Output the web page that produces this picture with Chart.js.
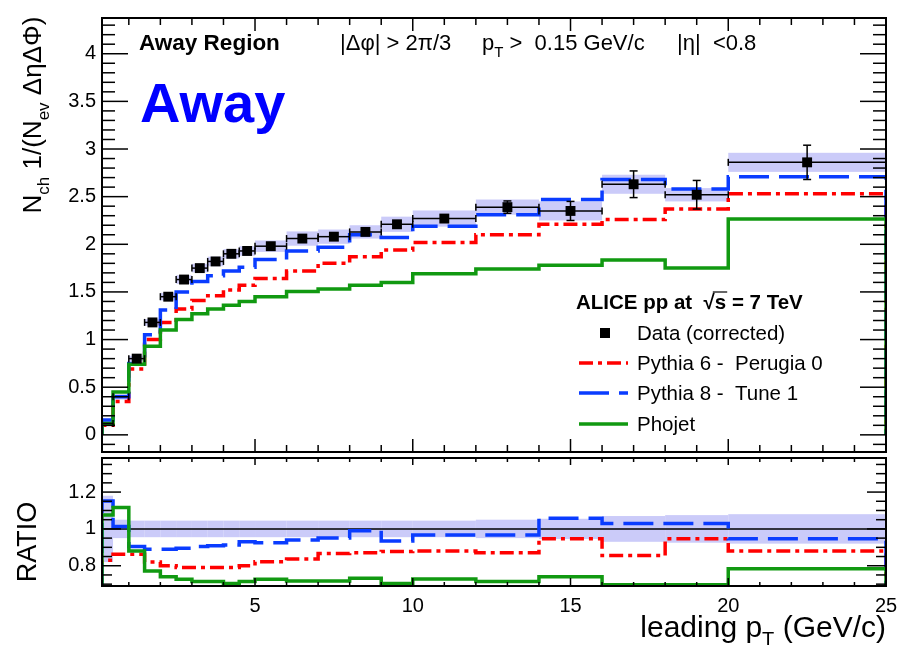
<!DOCTYPE html>
<html lang="en">
<head>
<meta charset="UTF-8" />
<script src="https://cdn.jsdelivr.net/npm/chart.js@4.4.1/dist/chart.umd.min.js"></script>
<title>Away region multiplicity</title>
<style>
  body { margin: 0; background: #fff; }
  #wrap { position: relative; width: 897px; height: 645px; overflow: hidden; }
  #topCanvas { position: absolute; left: 0; top: 0; }
  #ratioCanvas { position: absolute; left: 0; top: 440px; }
</style>
</head>
<body>
<div id="wrap">
  <canvas id="topCanvas" width="897" height="470"></canvas>
  <canvas id="ratioCanvas" width="897" height="205"></canvas>
</div>
<script>
// leading pT bins (GeV/c)
const binEdges = [0.15, 0.5, 1, 1.5, 2, 2.5, 3, 3.5, 4, 4.5, 5, 6, 7, 8, 9, 10, 12, 14, 16, 18, 20, 25];

// corrected data, away region
const dataVals = [0.12, 0.40, 0.80, 1.18, 1.45, 1.63, 1.75, 1.82, 1.90, 1.93, 1.98, 2.06, 2.08, 2.13, 2.21, 2.27, 2.39, 2.35, 2.63, 2.52, 2.86];
const dataStat = [0.005, 0.005, 0.01, 0.01, 0.01, 0.01, 0.01, 0.01, 0.015, 0.015, 0.015, 0.02, 0.025, 0.03, 0.03, 0.03, 0.065, 0.10, 0.14, 0.15, 0.18];
const dataSyst = [0.03, 0.03, 0.03, 0.035, 0.04, 0.045, 0.045, 0.05, 0.05, 0.05, 0.06, 0.075, 0.075, 0.07, 0.08, 0.085, 0.08, 0.10, 0.10, 0.07, 0.10];

// generators
const pythia6 = [0.10, 0.35, 0.69, 1.00, 1.18, 1.32, 1.41, 1.46, 1.52, 1.57, 1.64, 1.72, 1.80, 1.87, 1.94, 2.02, 2.10, 2.21, 2.26, 2.37, 2.53];
const pythia8 = [0.155, 0.40, 0.75, 1.05, 1.31, 1.50, 1.61, 1.67, 1.72, 1.76, 1.84, 1.93, 1.97, 2.10, 2.07, 2.19, 2.31, 2.47, 2.68, 2.58, 2.71];
const phojet = [0.12, 0.45, 0.74, 0.93, 1.10, 1.21, 1.27, 1.32, 1.36, 1.40, 1.45, 1.505, 1.53, 1.57, 1.60, 1.69, 1.74, 1.78, 1.835, 1.75, 2.265];

// MC / data
const ratioPythia6 = [0.83, 0.862, 0.862, 0.82, 0.80, 0.79, 0.79, 0.79, 0.79, 0.80, 0.822, 0.837, 0.867, 0.87, 0.877, 0.88, 0.871, 0.946, 0.855, 0.946, 0.88];
const ratioPythia8 = [1.152, 1.013, 0.905, 0.89, 0.89, 0.895, 0.905, 0.908, 0.913, 0.93, 0.925, 0.94, 0.95, 0.99, 0.935, 0.967, 0.967, 1.058, 1.03, 1.03, 0.946];
const ratioPhojet = [1.076, 1.116, 0.88, 0.772, 0.74, 0.726, 0.714, 0.714, 0.703, 0.714, 0.726, 0.717, 0.717, 0.732, 0.703, 0.728, 0.714, 0.74, 0.697, 0.697, 0.783];
const ratioSyst = [0.18, 0.05, 0.045, 0.045, 0.045, 0.045, 0.045, 0.045, 0.045, 0.045, 0.045, 0.045, 0.045, 0.045, 0.045, 0.045, 0.05, 0.055, 0.07, 0.075, 0.08];

const xTicks = [5, 10, 15, 20, 25];
const yTicksTop = [0, 0.5, 1, 1.5, 2, 2.5, 3, 3.5, 4];
const yTicksRatio = [0.8, 1, 1.2];

const FONT = "'Liberation Sans', Arial, sans-serif";
const bandColor = 'rgba(190, 190, 248, 0.8)';
const stP6 = { color: '#ff0000', dash: [14, 5, 4, 5] };
const stP8 = { color: '#0a3cff', dash: [30, 10] };
const stPho = { color: '#119911', dash: [] };

// step outline of a histogram, closed down to zero at both ends
function histPoints(vals) {
  const pts = [{ x: binEdges[0], y: 0 }];
  vals.forEach((v, i) => pts.push({ x: binEdges[i], y: v }));
  const last = binEdges[binEdges.length - 1];
  pts.push({ x: last, y: vals[vals.length - 1] });
  pts.push({ x: last, y: 0 });
  return pts;
}

function histDataset(label, vals, st) {
  return {
    type: 'line', label, data: histPoints(vals), stepped: true,
    borderColor: st.color, borderDash: st.dash, borderWidth: 3.5,
    pointRadius: 0, fill: false, tension: 0
  };
}

function forTicks(min, max, step, major, fn) {
  for (let k = Math.ceil(min / step - 1e-9); k * step <= max + 1e-9; k++) {
    const v = k * step;
    const r = v / major;
    fn(v, Math.abs(r - Math.round(r)) < 1e-6);
  }
}

// frame with inward ticks on all four sides
const rootFrame = {
  id: 'rootFrame',
  afterDraw(chart, args, o) {
    const { ctx, chartArea: a, scales: { x, y } } = chart;
    ctx.save();
    ctx.strokeStyle = '#000';
    ctx.lineWidth = 1.5;
    const seg = (x0, y0, x1, y1) => { ctx.beginPath(); ctx.moveTo(x0, y0); ctx.lineTo(x1, y1); ctx.stroke(); };
    forTicks(x.min, x.max, o.xMinor, o.xMajor, (v, major) => {
      const px = x.getPixelForValue(v);
      seg(px, a.bottom, px, a.bottom - o.xLenBottom[major ? 1 : 0]);
      seg(px, a.top, px, a.top + o.xLenTop[major ? 1 : 0]);
    });
    forTicks(y.min, y.max, o.yMinor, o.yMajor, (v, major) => {
      const py = y.getPixelForValue(v);
      const len = o.yLen[major ? 1 : 0];
      seg(a.left, py, a.left + len, py);
      seg(a.right, py, a.right - len, py);
    });
    ctx.lineWidth = 2;
    ctx.strokeRect(a.left, a.top, a.right - a.left, a.bottom - a.top);
    ctx.restore();
  }
};

// text runs with subscripts: [text, size, bold, sub]
function richWidth(ctx, parts) {
  let w = 0;
  parts.forEach(p => { ctx.font = (p[2] ? 'bold ' : '') + p[1] + 'px ' + FONT; w += ctx.measureText(p[0]).width; });
  return w;
}
function drawRich(ctx, parts, x, y, align) {
  const w = richWidth(ctx, parts);
  let cx = align === 'right' ? x - w : align === 'center' ? x - w / 2 : x;
  ctx.textAlign = 'left';
  ctx.textBaseline = 'alphabetic';
  parts.forEach(p => {
    ctx.font = (p[2] ? 'bold ' : '') + p[1] + 'px ' + FONT;
    ctx.fillText(p[0], cx, y + (p[3] ? p[1] * 0.45 : 0));
    cx += ctx.measureText(p[0]).width;
  });
}

function clipArea(ctx, a) {
  ctx.beginPath();
  ctx.rect(a.left, a.top, a.right - a.left, a.bottom - a.top);
  ctx.clip();
}

// systematic band and error bars of the data
const dataBars = {
  id: 'dataBars',
  beforeDatasetsDraw(chart) {
    const { ctx, chartArea: a, scales: { x, y } } = chart;
    ctx.save();
    clipArea(ctx, a);
    ctx.fillStyle = bandColor;
    dataVals.forEach((v, i) => {
      const x0 = x.getPixelForValue(binEdges[i]), x1 = x.getPixelForValue(binEdges[i + 1]);
      const y0 = y.getPixelForValue(v + dataSyst[i]), y1 = y.getPixelForValue(v - dataSyst[i]);
      ctx.fillRect(x0, y0, x1 - x0, y1 - y0);
    });
    ctx.restore();
  },
  beforeDatasetDraw(chart, args) {
    if (args.index !== 0) return;
    const { ctx, chartArea: a, scales: { x, y } } = chart;
    ctx.save();
    clipArea(ctx, a);
    ctx.strokeStyle = '#000';
    ctx.lineWidth = 1.5;
    const seg = (x0, y0, x1, y1) => { ctx.beginPath(); ctx.moveTo(x0, y0); ctx.lineTo(x1, y1); ctx.stroke(); };
    dataVals.forEach((v, i) => {
      const x0 = x.getPixelForValue(binEdges[i]), x1 = x.getPixelForValue(binEdges[i + 1]);
      const xc = (x0 + x1) / 2, py = y.getPixelForValue(v);
      seg(x0, py, x1, py);
      seg(x0, py - 3.5, x0, py + 3.5);
      seg(x1, py - 3.5, x1, py + 3.5);
      const yt = y.getPixelForValue(v + dataStat[i]), yb = y.getPixelForValue(v - dataStat[i]);
      if (yb - yt > 6) {
        seg(xc, yt, xc, yb);
        seg(xc - 4, yt, xc + 4, yt);
        seg(xc - 4, yb, xc + 4, yb);
      }
    });
    ctx.restore();
  }
};

const topTexts = {
  id: 'topTexts',
  afterDraw(chart) {
    const ctx = chart.ctx;
    ctx.save();
    ctx.fillStyle = '#000';
    drawRich(ctx, [['Away Region', 22.5, true]], 139, 50);
    drawRich(ctx, [['|\u0394\u03c6| > 2\u03c0/3', 22]], 340, 50);
    drawRich(ctx, [['p', 22], ['T', 15, false, true], [' >  0.15 GeV/c', 22]], 482, 50);
    drawRich(ctx, [['|\u03b7|  <0.8', 22]], 677, 50);

    ctx.fillStyle = '#0000ff';
    drawRich(ctx, [['Away', 56, true]], 140, 122);

    // y axis title
    ctx.fillStyle = '#000';
    ctx.save();
    ctx.translate(41, 115);
    ctx.rotate(-Math.PI / 2);
    drawRich(ctx, [['N', 26], ['ch', 17, false, true], [' 1/(N', 26], ['ev', 17, false, true], [' \u0394\u03b7\u0394\u03a6)', 26]], 0, 0, 'center');
    ctx.restore();

    // legend
    const head = 'ALICE pp at  \u221a';
    drawRich(ctx, [[head + 's = 7 TeV', 20.5, true]], 576, 309);
    ctx.font = 'bold 20.5px ' + FONT;
    const sx = 576 + ctx.measureText(head).width;
    ctx.lineWidth = 1.2;
    ctx.beginPath();
    ctx.moveTo(sx - 2, 292);
    ctx.lineTo(sx + ctx.measureText('s').width + 1, 292);
    ctx.stroke();

    ctx.fillRect(600, 328, 10, 10);
    const rows = [[stP6, 363, 'Pythia 6 -  Perugia 0'], [stP8, 393, 'Pythia 8 -  Tune 1'], [stPho, 424, 'Phojet']];
    drawRich(ctx, [['Data (corrected)', 20.5]], 637, 340);
    rows.forEach(([st, yy, label]) => {
      ctx.save();
      ctx.strokeStyle = st.color;
      ctx.lineWidth = 3.5;
      ctx.setLineDash(st.dash);
      ctx.beginPath();
      ctx.moveTo(579, yy);
      ctx.lineTo(628, yy);
      ctx.stroke();
      ctx.restore();
      drawRich(ctx, [[label, 20.5]], 637, yy + 7);
    });
    ctx.restore();
  }
};

const ratioBand = {
  id: 'ratioBand',
  beforeDatasetsDraw(chart) {
    const { ctx, chartArea: a, scales: { x, y } } = chart;
    ctx.save();
    clipArea(ctx, a);
    ctx.fillStyle = bandColor;
    ratioSyst.forEach((s, i) => {
      const x0 = x.getPixelForValue(binEdges[i]), x1 = x.getPixelForValue(binEdges[i + 1]);
      const y0 = y.getPixelForValue(1 + s), y1 = y.getPixelForValue(1 - s);
      ctx.fillRect(x0, y0, x1 - x0, y1 - y0);
    });
    ctx.restore();
  }
};

const ratioTexts = {
  id: 'ratioTexts',
  afterDraw(chart) {
    const ctx = chart.ctx;
    ctx.save();
    ctx.fillStyle = '#000';
    ctx.translate(0, -440);
    drawRich(ctx, [['leading p', 30], ['T', 20, false, true], [' (GeV/c)', 30]], 886, 637, 'right');
    ctx.translate(36, 542);
    ctx.rotate(-Math.PI / 2);
    drawRich(ctx, [['RATIO', 27]], 0, 0, 'center');
    ctx.restore();
  }
};

const tickFont = { family: FONT, size: 20 };
const fmt = v => String(+Number(v).toFixed(2));

new Chart(document.getElementById('topCanvas'), {
  data: {
    datasets: [
      {
        type: 'scatter', label: 'Data (corrected)',
        data: dataVals.map((v, i) => ({ x: (binEdges[i] + binEdges[i + 1]) / 2, y: v })),
        pointStyle: 'rect', pointRadius: ctx => (ctx.dataIndex < 2 ? 0 : 7),
        backgroundColor: '#000', borderColor: '#000', borderWidth: 0
      },
      histDataset('Phojet', phojet, stPho),
      histDataset('Pythia 8 - Tune 1', pythia8, stP8),
      histDataset('Pythia 6 - Perugia 0', pythia6, stP6)
    ]
  },
  options: {
    responsive: false, animation: false, devicePixelRatio: 1,
    layout: { padding: { top: 14, right: 11, bottom: 13, left: 0 } },
    scales: {
      x: { type: 'linear', min: 0.15, max: 25, display: false },
      y: {
        type: 'linear', min: -0.18, max: 4.375,
        afterFit: s => { s.width = 102; },
        afterBuildTicks: s => { s.ticks = yTicksTop.map(v => ({ value: v })); },
        grid: { display: false, drawTicks: false }, border: { display: false },
        ticks: { font: tickFont, color: '#000', padding: 6, callback: fmt }
      }
    },
    plugins: {
      legend: { display: false }, tooltip: { enabled: false },
      rootFrame: { xMinor: 1, xMajor: 5, xLenBottom: [7, 13], xLenTop: [7, 13], yMinor: 0.1, yMajor: 0.5, yLen: [13, 26] }
    }
  },
  plugins: [dataBars, rootFrame, topTexts]
});

new Chart(document.getElementById('ratioCanvas'), {
  data: {
    datasets: [
      histDataset('Phojet', ratioPhojet, stPho),
      histDataset('Pythia 8 - Tune 1', ratioPythia8, stP8),
      histDataset('Pythia 6 - Perugia 0', ratioPythia6, stP6),
      {
        type: 'line', label: 'unity',
        data: [{ x: binEdges[0], y: 1 }, { x: binEdges[binEdges.length - 1], y: 1 }],
        borderColor: '#000', borderWidth: 1.5, pointRadius: 0
      }
    ]
  },
  options: {
    responsive: false, animation: false, devicePixelRatio: 1,
    layout: { padding: { top: 17, right: 11, bottom: 0, left: 0 } },
    scales: {
      x: {
        type: 'linear', min: 0.15, max: 25,
        afterFit: s => { s.height = 59; s.paddingLeft = 0; s.paddingRight = 0; },
        afterBuildTicks: s => { s.ticks = xTicks.map(v => ({ value: v })); },
        grid: { display: false, drawTicks: false }, border: { display: false },
        ticks: { font: tickFont, color: '#000', padding: 8, maxRotation: 0, autoSkip: false, callback: fmt }
      },
      y: {
        type: 'linear', min: 0.69, max: 1.385,
        afterFit: s => { s.width = 102; },
        afterBuildTicks: s => { s.ticks = yTicksRatio.map(v => ({ value: v })); },
        grid: { display: false, drawTicks: false }, border: { display: false },
        ticks: { font: tickFont, color: '#000', padding: 6, callback: fmt }
      }
    },
    plugins: {
      legend: { display: false }, tooltip: { enabled: false },
      rootFrame: { xMinor: 1, xMajor: 5, xLenBottom: [4, 8], xLenTop: [4, 7], yMinor: 0.05, yMajor: 0.2, yLen: [10, 19] }
    }
  },
  plugins: [ratioBand, rootFrame, ratioTexts]
});
</script>
</body>
</html>
